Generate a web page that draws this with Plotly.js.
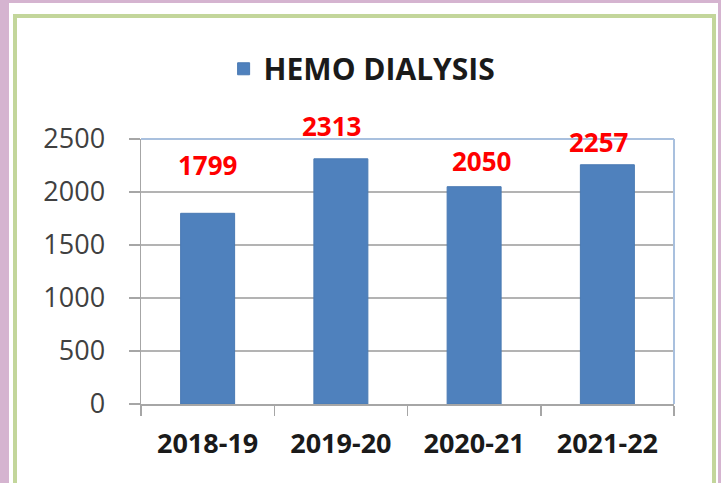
<!DOCTYPE html>
<html>
<head>
<meta charset="utf-8">
<script src="https://cdn.plot.ly/plotly-3.0.1.min.js"></script>
<style>
  html, body { margin: 0; padding: 0; width: 721px; height: 483px; overflow: hidden; background: #d5b4d0; }
  #white { position: absolute; left: 9px; top: 3px; width: 709px; height: 490px; background: #ffffff; }
  #green { position: absolute; left: 13px; top: 14px; width: 695px; height: 500px; border: 4px solid #c3d69b; box-sizing: content-box; }
  #chart { position: absolute; left: 0; top: 0; width: 721px; height: 483px; }
</style>
</head>
<body>
<div id="white"></div>
<div id="green"></div>
<div id="chart"></div>
<script>
// Data
const categories = ["2018-19", "2019-20", "2020-21", "2021-22"];
const hemoDialysis = [1799, 2313, 2050, 2257];
const seriesName = "HEMO DIALYSIS";
const yTickValues = [0, 500, 1000, 1500, 2000, 2500];

// Label placement (style only)
const labelYShift = [48, 33, 26, 23];
const labelXShift = [0, -9, 7, -8];

const trace = {
  type: "bar",
  x: categories,
  y: hemoDialysis,
  name: seriesName,
  marker: { color: "#4f81bd", line: { color: "#4a7ab3", width: 1 } },
  hoverinfo: "x+y"
};

const annotations = categories.map((c, i) => ({
  x: c, y: hemoDialysis[i], xref: "x", yref: "y",
  text: "<b>" + hemoDialysis[i] + "</b>",
  showarrow: false, yanchor: "middle", xanchor: "center",
  yshift: labelYShift[i], xshift: labelXShift[i],
  font: { family: "Open Sans, sans-serif", size: 26, color: "#ff0000" }
}));

const layout = {
  width: 721, height: 483,
  margin: { l: 141, r: 47, t: 139, b: 79, pad: 0 },
  paper_bgcolor: "rgba(0,0,0,0)",
  plot_bgcolor: "rgba(0,0,0,0)",
  bargap: 0.595,
  showlegend: true,
  legend: {
    orientation: "h", x: 0.155, xanchor: "left", y: 1.265, yanchor: "middle",
    font: { family: "Open Sans, sans-serif", size: 30, color: "#1a1a1a", weight: "bold" },
    bgcolor: "rgba(0,0,0,0)"
  },
  xaxis: {
    type: "category",
    showgrid: false,
    showline: true, linecolor: "#a6a6a6", linewidth: 1.5,
    ticks: "outside", tickson: "boundaries", ticklen: 10, tickcolor: "#a6a6a6", tickwidth: 1.5,
    tickfont: { family: "Open Sans, sans-serif", size: 27, color: "#1a1a1a", weight: "bold" },
    ticklabelstandoff: 15,
    fixedrange: true
  },
  yaxis: {
    range: [0, 2500],
    tickvals: yTickValues,
    showgrid: true, gridcolor: "#b3b3b3", gridwidth: 1.5,
    showline: true, linecolor: "#a6a6a6", linewidth: 1.5,
    ticks: "outside", ticklen: 11, tickcolor: "#a6a6a6", tickwidth: 1.5,
    tickfont: { family: "Open Sans, sans-serif", size: 27, color: "#404040" },
    ticklabelstandoff: 18,
    zeroline: false,
    fixedrange: true
  },
  shapes: [
    { type: "line", xref: "x domain", yref: "y domain", x0: 0, x1: 1, y0: 1, y1: 1,
      line: { color: "#a9c0de", width: 2 }, layer: "above" },
    { type: "line", xref: "x domain", yref: "y domain", x0: 1, x1: 1, y0: 0, y1: 1,
      line: { color: "#a9c0de", width: 2 }, layer: "above" }
  ],
  annotations: annotations
};

Plotly.newPlot("chart", [trace], layout, { displayModeBar: false, staticPlot: true });
</script>
</body>
</html>
